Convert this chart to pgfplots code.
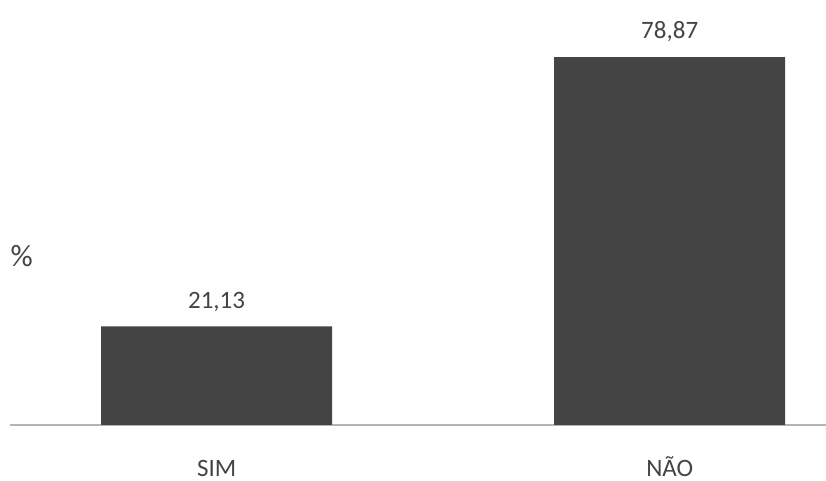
\documentclass[border=0pt]{standalone}
\usepackage{pgfplots}
\pgfplotsset{compat=1.18}
\usepackage{fontspec}
\setmainfont{Carlito}
\definecolor{barc}{HTML}{444444}
\definecolor{txt}{HTML}{444444}
\definecolor{axc}{HTML}{B4B4B4}
\begin{document}
\begin{tikzpicture}
\path[use as bounding box] (0,0) rectangle (826pt,481pt);
\begin{axis}[
 at={(10pt,56pt)}, anchor=south west,
 scale only axis, width=816pt, height=425pt,
 xmin=-0.456, xmax=1.345, ymin=0, ymax=91.1,
 axis y line=none, axis x line*=bottom,
 x axis line style={axc, line width=1.2pt},
 xtick={0,1}, xticklabels={SIM, NÃO},
 major tick length=0pt,
 xticklabel style={font=\fontsize{25}{30}\selectfont, text=txt, inner sep=0pt, text height=16.5pt, text depth=0pt, anchor=north, yshift=-35pt},
 ybar, bar width=231pt,
 nodes near coords,
 /pgf/number format/assume math mode=true,
 /pgf/number format/.cd, fixed, fixed zerofill, precision=2, use comma, /pgfplots/.cd,
 nodes near coords style={font=\fontsize{25}{30}\selectfont, text=txt, inner sep=0pt, text depth=0pt, anchor=south, yshift=18pt},
 clip=false,
]
\addplot[fill=barc, draw=none] coordinates {(0,21.13) (1,78.87)};
\node[font=\fontsize{31}{36}\selectfont, text=txt, anchor=center] at (axis cs:-0.43,36.3) {\%};
\end{axis}
\end{tikzpicture}
\end{document}
